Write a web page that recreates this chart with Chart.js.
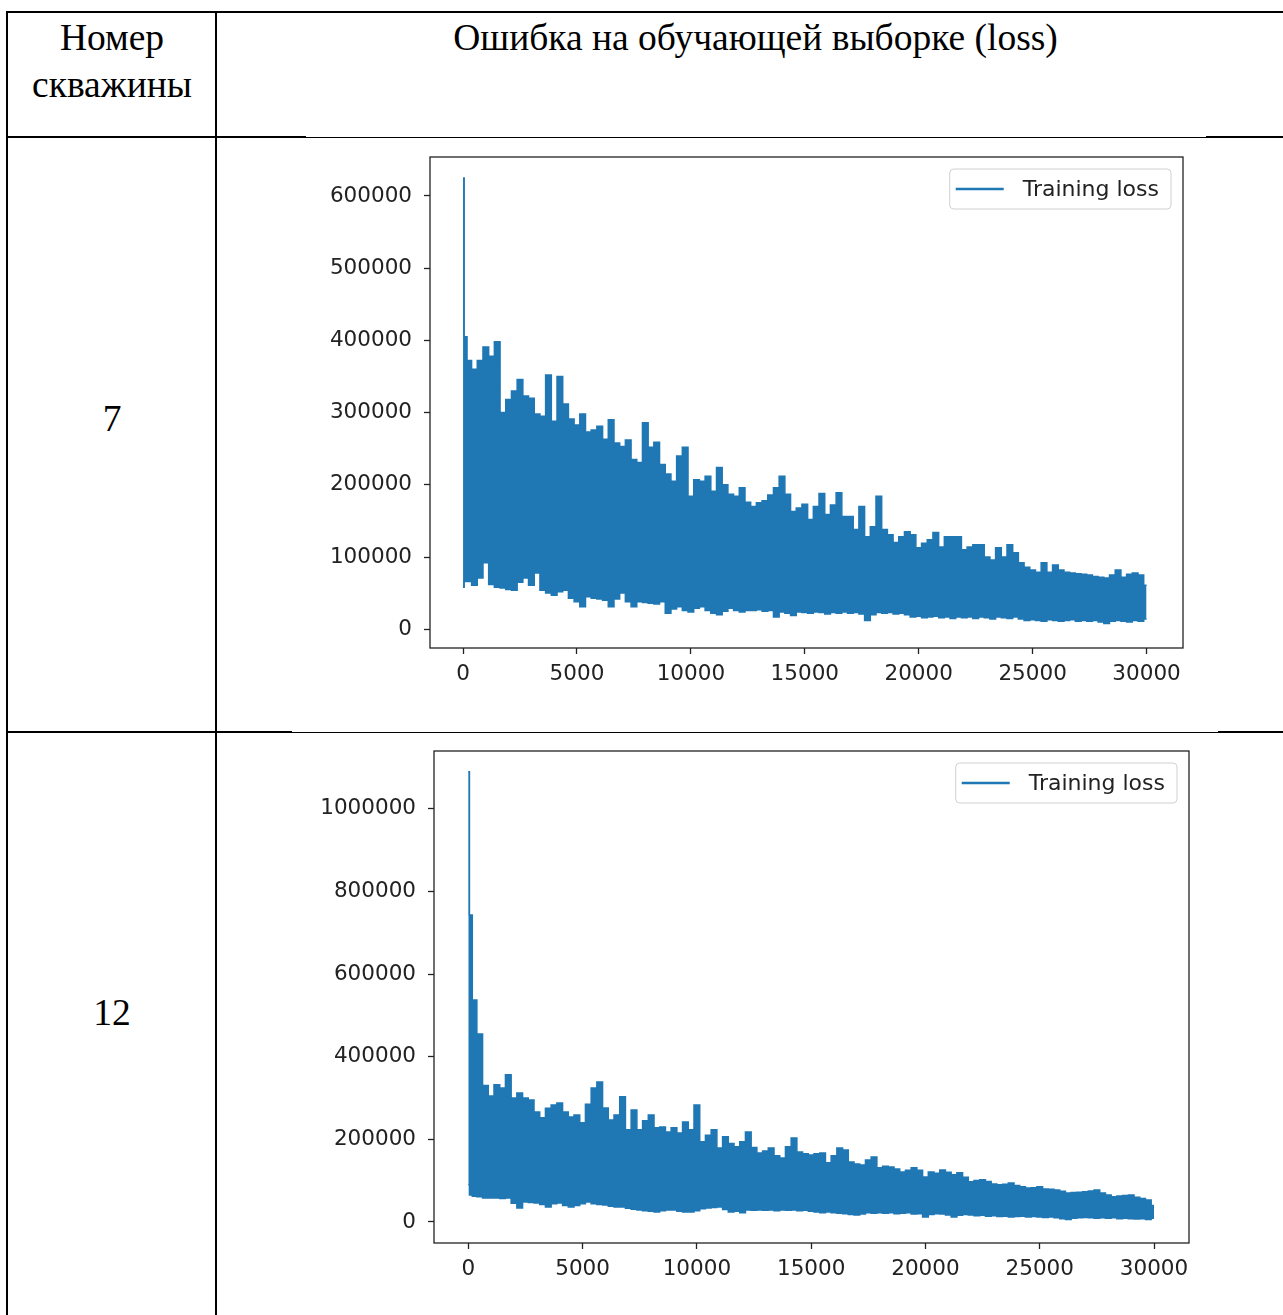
<!DOCTYPE html>
<html>
<head>
<meta charset="utf-8">
<script src="https://cdn.jsdelivr.net/npm/chart.js@4"></script>
<style>
  body { margin: 0; background: #fff; width: 1283px; height: 1315px; position: relative; overflow: hidden;
         font-family: "Liberation Serif", "Times New Roman", serif; }
  .ln { position: absolute; background: #000; }
  .txt { position: absolute; font-size: 37.5px; color: #000; text-align: center; line-height: 47px; white-space: nowrap; }
  canvas { position: absolute; }
</style>
</head>
<body>
<!-- table lines -->
<div class="ln" style="left:6px;top:11px;width:1277px;height:2px"></div>
<div class="ln" style="left:6px;top:11px;width:2px;height:1304px"></div>
<div class="ln" style="left:215px;top:11px;width:2px;height:1304px"></div>
<div class="ln" style="left:6px;top:136px;width:300px;height:2px"></div>
<div class="ln" style="left:306px;top:137px;width:900px;height:1px"></div>
<div class="ln" style="left:1206px;top:136px;width:77px;height:2px"></div>
<div class="ln" style="left:6px;top:731px;width:286px;height:2px"></div>
<div class="ln" style="left:292px;top:732px;width:926px;height:1px"></div>
<div class="ln" style="left:1218px;top:731px;width:65px;height:2px"></div>

<div class="txt" style="left:8px;top:14px;width:208px">Номер<br>скважины</div>
<div class="txt" style="left:222px;top:14px;width:1067px">Ошибка на обучающей выборке (loss)</div>
<div class="txt" style="left:8px;top:395px;width:208px">7</div>
<div class="txt" style="left:8px;top:989px;width:208px">12</div>

<canvas id="chart7" width="900" height="570" style="left:300px;top:140px"></canvas>
<canvas id="chart12" width="910" height="575" style="left:300px;top:735px"></canvas>

<script>
// iterations: 0, 100, then every 250 up to 30000
const iters = [0, 100].concat(Array.from({length: 120}, (_, i) => 250 * (i + 1)));

// well 7: upper and lower edge of the loss band
const upper7 = [
  625000, 405000, 372000, 360000, 372000, 391000, 378000, 398000, 300000, 318000,
  330000, 346000, 323000, 320000, 298000, 295000, 352000, 288000, 350000, 312000,
  291000, 283000, 298000, 273000, 276000, 281000, 263000, 290000, 258000, 253000,
  262000, 235000, 231000, 286000, 252000, 259000, 228000, 215000, 205000, 240000,
  252000, 184000, 207000, 205000, 212000, 191000, 224000, 200000, 187000, 184000,
  196000, 176000, 170000, 175000, 178000, 186000, 196000, 212000, 187000, 163000,
  168000, 173000, 152000, 170000, 188000, 159000, 172000, 189000, 156000, 156000,
  138000, 170000, 128000, 142000, 184000, 138000, 131000, 120000, 128000, 135000,
  131000, 113000, 119000, 124000, 134000, 114000, 128000, 128000, 128000, 110000,
  114000, 117000, 117000, 100000, 96000, 113000, 100000, 117000, 106000, 92000,
  86000, 82000, 79000, 92000, 79000, 89000, 82000, 79000, 78000, 77000,
  76000, 75000, 73000, 72000, 71000, 75000, 82000, 72000, 76000, 78000,
  75000, 61000
];
const lower7 = [
  58000, 66000, 66000, 61000, 71000, 92000, 62000, 58000, 57000, 55000,
  54000, 65000, 71000, 61000, 78000, 54000, 50000, 47000, 52000, 54000,
  43000, 38000, 31000, 45000, 43000, 42000, 40000, 31000, 42000, 50000,
  38000, 31000, 38000, 37000, 36000, 35000, 38000, 22000, 28000, 31000,
  26000, 24000, 29000, 31000, 26000, 22000, 20000, 25000, 29000, 26000,
  24000, 26000, 26000, 27000, 25000, 26000, 17000, 24000, 22000, 19000,
  24000, 23000, 22000, 24000, 23000, 21000, 23000, 22000, 24000, 22000,
  23000, 21000, 12000, 20000, 23000, 22000, 23000, 21000, 22000, 20000,
  17000, 18000, 16000, 17000, 18000, 16000, 17000, 15000, 17000, 16000,
  17000, 15000, 17000, 16000, 14000, 17000, 16000, 15000, 17000, 14000,
  12000, 13000, 12000, 11000, 13000, 12000, 11000, 12000, 13000, 11000,
  12000, 11000, 12000, 10000, 8000, 11000, 12000, 11000, 10000, 12000,
  11000, 14000
];

// well 12
const upper12 = [
  1090000, 743000, 537000, 455000, 330000, 305000, 332000, 324000, 356000, 300000,
  312000, 300000, 295000, 266000, 252000, 275000, 283000, 288000, 266000, 254000,
  259000, 240000, 285000, 324000, 339000, 276000, 247000, 259000, 303000, 223000,
  271000, 223000, 245000, 259000, 228000, 230000, 218000, 228000, 215000, 242000,
  223000, 283000, 194000, 210000, 223000, 179000, 206000, 190000, 182000, 194000,
  218000, 180000, 167000, 172000, 179000, 160000, 155000, 182000, 203000, 169000,
  165000, 162000, 165000, 167000, 143000, 160000, 179000, 174000, 145000, 140000,
  138000, 150000, 157000, 131000, 135000, 133000, 128000, 121000, 125000, 131000,
  125000, 109000, 121000, 118000, 126000, 120000, 114000, 119000, 108000, 97000,
  100000, 102000, 98000, 92000, 90000, 91000, 94000, 88000, 85000, 82000,
  83000, 85000, 80000, 79000, 77000, 74000, 70000, 71000, 72000, 73000,
  75000, 77000, 70000, 65000, 61000, 63000, 64000, 65000, 60000, 57000,
  53000, 40000
];
const lower12 = [
  90000, 65000, 62000, 61000, 58000, 58000, 58000, 57000, 58000, 45000,
  34000, 48000, 47000, 46000, 42000, 36000, 44000, 46000, 40000, 36000,
  40000, 44000, 48000, 44000, 42000, 41000, 38000, 36000, 36000, 33000,
  31000, 29000, 27000, 26000, 24000, 27000, 29000, 29000, 26000, 24000,
  24000, 27000, 32000, 34000, 35000, 36000, 30000, 24000, 26000, 22000,
  29000, 28000, 29000, 28000, 29000, 27000, 29000, 28000, 29000, 27000,
  28000, 26000, 24000, 22000, 24000, 22000, 21000, 20000, 18000, 17000,
  19000, 22000, 21000, 22000, 21000, 22000, 20000, 21000, 22000, 19000,
  20000, 12000, 18000, 20000, 19000, 17000, 12000, 16000, 18000, 17000,
  15000, 16000, 14000, 15000, 13000, 14000, 12000, 13000, 14000, 12000,
  13000, 12000, 11000, 12000, 10000, 8000, 6000, 9000, 10000, 11000,
  10000, 9000, 10000, 9000, 10000, 8000, 9000, 8000, 7000, 8000,
  6000, 9000
];

const xTicks = [0, 5000, 10000, 15000, 20000, 25000, 30000];
const yTicks7 = [0, 100000, 200000, 300000, 400000, 500000, 600000];
const yTicks12 = [0, 200000, 400000, 600000, 800000, 1000000];

const BLUE = '#1f77b4';
const INK = '#222';
const tickFont = { family: 'DejaVu Sans', size: 21.5 };

// axes frame + matplotlib style legend
const framePlugin = {
  id: 'frame',
  afterDraw(chart) {
    const { ctx, chartArea: a } = chart;
    ctx.save();
    ctx.strokeStyle = INK;
    ctx.lineWidth = 1.3;
    ctx.strokeRect(a.left, a.top, a.right - a.left, a.bottom - a.top);

    const ds = chart.data.datasets[0];
    ctx.font = '22px "DejaVu Sans"';
    const tw = ctx.measureText(ds.label).width;
    const w = 73 + tw + 12, h = 40;
    const x = a.right - 12 - w, y = a.top + 12;
    ctx.fillStyle = 'rgba(255,255,255,0.8)';
    ctx.strokeStyle = '#d0d0d0';
    ctx.lineWidth = 1;
    ctx.beginPath();
    ctx.roundRect(x, y, w, h, 4);
    ctx.fill();
    ctx.stroke();
    ctx.strokeStyle = ds.borderColor;
    ctx.lineWidth = 2.5;
    ctx.beginPath();
    ctx.moveTo(x + 6, y + h / 2);
    ctx.lineTo(x + 54, y + h / 2);
    ctx.stroke();
    ctx.fillStyle = INK;
    ctx.textBaseline = 'middle';
    ctx.fillText(ds.label, x + 73, y + h / 2 + 1);
    ctx.restore();
  }
};

function makeChart(id, upper, lower, yTicks, yMin, yMax, xMin, xMax, yAxisW, xAxisH, padTop, padRight) {
  const pts = arr => iters.map((it, i) => ({ x: it, y: arr[i] }));
  return new Chart(document.getElementById(id), {
    type: 'line',
    data: {
      datasets: [
        { label: 'Training loss', data: pts(upper), borderColor: BLUE, backgroundColor: BLUE,
          borderWidth: 1.5, pointRadius: 0, stepped: 'middle', fill: '+1' },
        { label: 'lower', data: pts(lower), borderColor: BLUE, backgroundColor: BLUE,
          borderWidth: 1.5, pointRadius: 0, stepped: 'middle', fill: false }
      ]
    },
    options: {
      responsive: false,
      animation: false,
      devicePixelRatio: 1,
      layout: { padding: { top: padTop, right: padRight, left: 0, bottom: 0 } },
      plugins: { legend: { display: false }, tooltip: { enabled: false } },
      scales: {
        x: {
          type: 'linear', min: xMin, max: xMax,
          afterBuildTicks: s => { s.ticks = xTicks.map(v => ({ value: v })); },
          afterFit: s => { s.height = xAxisH; s.paddingLeft = 0; s.paddingRight = 0; },
          grid: { drawOnChartArea: false, tickLength: 6, tickColor: INK, tickWidth: 1.3 },
          border: { display: false },
          ticks: { font: tickFont, color: INK, padding: 8, maxRotation: 0, callback: v => String(v) }
        },
        y: {
          type: 'linear', min: yMin, max: yMax,
          afterBuildTicks: s => { s.ticks = yTicks.map(v => ({ value: v })); },
          afterFit: s => { s.width = yAxisW; s.paddingTop = 0; s.paddingBottom = 0; },
          grid: { drawOnChartArea: false, tickLength: 6, tickColor: INK, tickWidth: 1.3 },
          border: { display: false },
          ticks: { font: tickFont, color: INK, padding: 12, callback: v => String(v) }
        }
      }
    },
    plugins: [framePlugin]
  });
}

makeChart('chart7', upper7, lower7, yTicks7, -26000, 654000, -1450, 31600, 130, 62, 17, 17);
makeChart('chart12', upper12, lower12, yTicks12, -51000, 1140000, -1500, 31530, 134, 67, 16, 21);
</script>
</body>
</html>
